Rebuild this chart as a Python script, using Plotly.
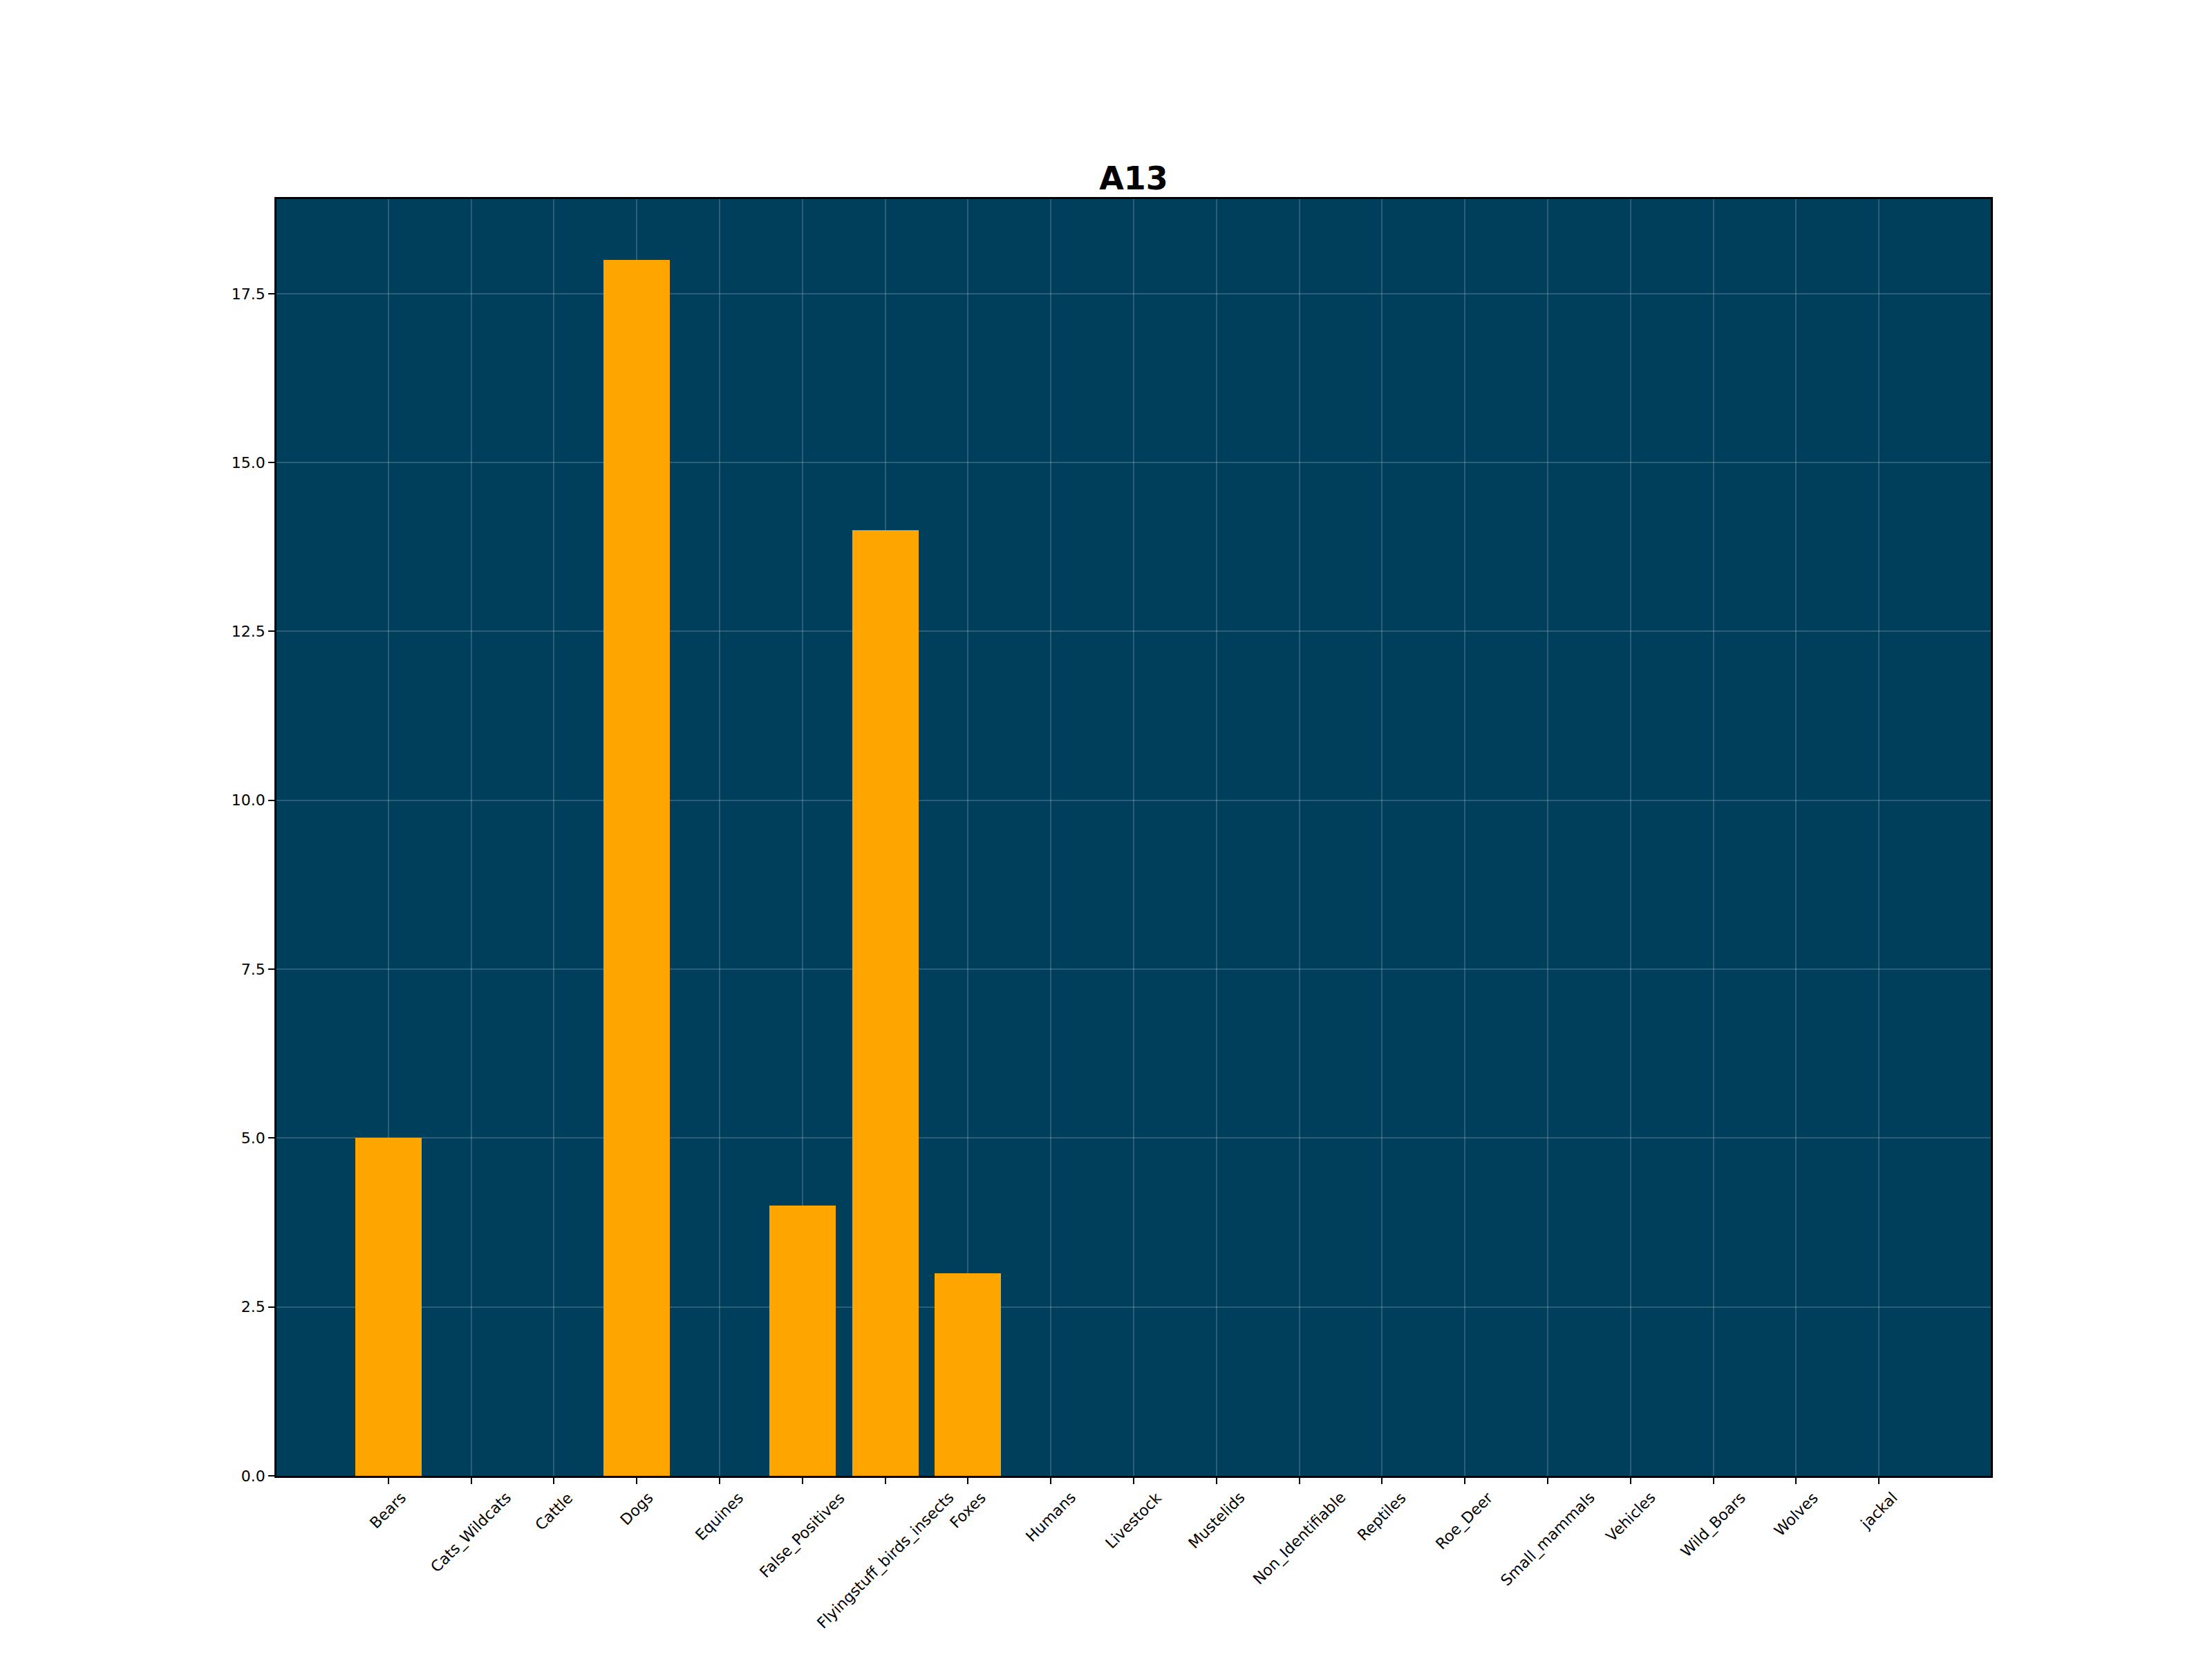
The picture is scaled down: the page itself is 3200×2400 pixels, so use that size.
import plotly.graph_objects as go

categories = ["Bears", "Cats_Wildcats", "Cattle", "Dogs", "Equines", "False_Positives",
              "Flyingstuff_birds_insects", "Foxes", "Humans", "Livestock", "Mustelids",
              "Non_Identifiable", "Reptiles", "Roe_Deer", "Small_mammals", "Vehicles",
              "Wild_Boars", "Wolves", "jackal"]
counts = [5, 0, 0, 18, 0, 4, 14, 3, 0, 0, 0, 0, 0, 0, 0, 0, 0, 0, 0]
y_ticks = [0.0, 2.5, 5.0, 7.5, 10.0, 12.5, 15.0, 17.5]
title_text = "A13"

FONT = "DejaVu Sans"
BG = "#003f5c"
GRID = "rgba(255,255,255,0.17)"

W, H = 3192, 2392  # page body has an 8px margin

fig = go.Figure()
fig.add_trace(go.Bar(
    x=categories, y=counts, width=0.8,
    marker=dict(color="#FFA500", line=dict(width=0)),
))

annotations = []
for c in categories:
    annotations.append(dict(
        x=c, y=0, xref="x", yref="paper", text=c, showarrow=False,
        textangle=-45, xanchor="center", yanchor="top", yshift=-16,
        font=dict(family=FONT, size=22, color="black"),
    ))

fig.update_layout(
    width=W, height=H,
    margin=dict(l=392, r=320, t=280, b=265, autoexpand=False),
    paper_bgcolor="white", plot_bgcolor=BG,
    showlegend=False,
    title=dict(text="<b>" + title_text + "</b>", x=0.5, xref="paper", xanchor="center",
               y=1 - 250 / H, yanchor="middle", yref="container",
               font=dict(family=FONT, size=46, color="black")),
    annotations=annotations,
    bargap=0,
)
fig.update_xaxes(
    type="category", range=[-1.35, 18 + 1.35],
    tickvals=categories, showticklabels=False,
    ticks="outside", ticklen=9, tickwidth=2, tickcolor="black",
    showgrid=True, gridcolor=GRID, gridwidth=1.5,
    showline=True, linecolor="black", linewidth=2.5, mirror=True,
    zeroline=False,
)
fig.update_yaxes(
    range=[0, 18.9], tickvals=y_ticks, tickformat=".1f",
    ticks="outside", ticklen=9, tickwidth=2, tickcolor="black",
    tickfont=dict(family=FONT, size=22, color="black"),
    showgrid=True, gridcolor=GRID, gridwidth=1.5,
    showline=True, linecolor="black", linewidth=2.5, mirror=True,
    zeroline=False,
)

fig.write_html("out.html")
